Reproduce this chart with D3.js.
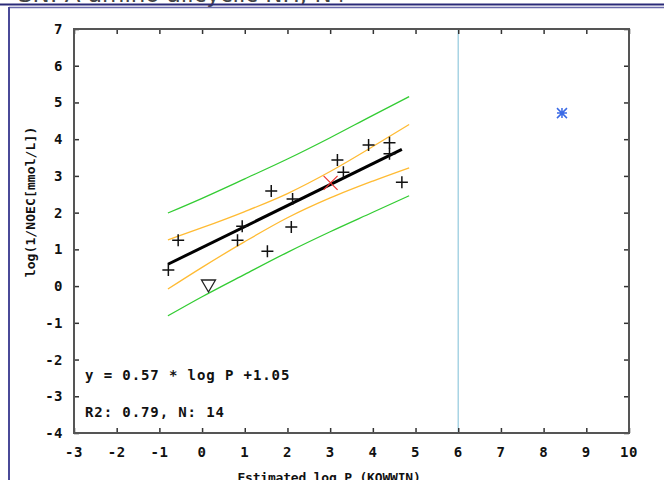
<!DOCTYPE html>
<html><head><meta charset="utf-8">
<script src="https://cdn.jsdelivr.net/npm/d3@7"></script>
<style>
html,body{margin:0;padding:0;background:#fff;}
svg{display:block;}
.mono{font-family:"DejaVu Sans Mono",monospace;font-weight:bold;}
</style></head>
<body><svg id="c" width="664" height="480"></svg>
<script>
// ---- data ----
const obsX = [-0.79,-0.56,0.83,0.94,1.62,1.53,2.09,2.12,3.17,3.31,3.90,4.39,4.39,4.68];
const obsY = [0.44,1.25,1.25,1.63,2.59,0.95,1.61,2.37,3.43,3.10,3.84,3.90,3.60,2.83];
const triX = [0.15], triY = [0.03];
const redX = [3.01], redY = [2.81];
const starX = [8.43], starY = [4.71];
const fitX = [-0.8, 4.68], fitY = [0.594, 3.72];
const bandX = [-0.8, 0, 1, 2, 3, 4, 4.85];
const confUpper = [1.26,1.59,2.03,2.52,3.12,3.80,4.40];
const confLower = [-0.08,0.51,1.21,1.86,2.40,2.86,3.22];
const predUpper = [1.99,2.39,2.92,3.46,4.04,4.65,5.16];
const predLower = [-0.81,-0.29,0.32,0.92,1.48,2.01,2.46];
const refX = 6;
const xTicks = [-3,-2,-1,0,1,2,3,4,5,6,7,8,9,10];
const yTicks = [-4,-3,-2,-1,0,1,2,3,4,5,6,7];
const title = "SN: A amino alicyclic NH, N+";
const eqText = "y = 0.57 * log P +1.05";
const statText = "R2: 0.79, N: 14";
const xLabel = "Estimated log P (KOWWIN)";
const yLabel = "log(1/NOEC[mmol/L])";

// ---- layout ----
const svg = d3.select("#c");
const L=74, R=629, T=29, B=433;
const x = d3.scaleLinear().domain([-3,10]).range([L,R]);
const y = d3.scaleLinear().domain([-4,7]).range([B,T]);

// page decoration
svg.append("text").attr("x",18).attr("y",2).attr("font-family","DejaVu Sans, sans-serif")
  .attr("font-size",23).attr("fill","#444").text(title);
svg.append("line").attr("x1",0).attr("x2",664).attr("y1",4.5).attr("y2",4.5).attr("stroke","#2a2a78").attr("stroke-width",2);
svg.append("line").attr("x1",9).attr("x2",664).attr("y1",7.5).attr("y2",7.5).attr("stroke","#6a6aaa").attr("stroke-width",1.5);
svg.append("line").attr("x1",9).attr("x2",9).attr("y1",7).attr("y2",480).attr("stroke","#4a4a98").attr("stroke-width",2);

// reference line
svg.append("line").attr("x1",x(refX)).attr("x2",x(refX)).attr("y1",T).attr("y2",B)
  .attr("stroke","#a8d4e4").attr("stroke-width",1.5);

// axes (ticks inward on all sides)
const tk = 5;
const gx = svg.append("g").attr("transform",`translate(0,${B})`)
  .call(d3.axisBottom(x).tickValues(xTicks).tickSize(-tk).tickFormat(""));
const gxt = svg.append("g").attr("transform",`translate(0,${T})`)
  .call(d3.axisTop(x).tickValues(xTicks).tickSize(-tk).tickFormat(""));
const gy = svg.append("g").attr("transform",`translate(${L},0)`)
  .call(d3.axisLeft(y).tickValues(yTicks).tickSize(-tk).tickFormat(""));
const gyr = svg.append("g").attr("transform",`translate(${R},0)`)
  .call(d3.axisRight(y).tickValues(yTicks).tickSize(-tk).tickFormat(""));
[gx,gxt,gy,gyr].forEach(g=>{
  g.select(".domain").remove();
  g.selectAll(".tick line").attr("stroke","#333").attr("stroke-width",1.5);
});
svg.append("rect").attr("x",L).attr("y",T).attr("width",R-L).attr("height",B-T)
  .attr("fill","none").attr("stroke","#555").attr("stroke-width",2);

// tick labels
svg.selectAll(".xl").data(xTicks).enter().append("text").attr("class","mono")
  .attr("x",d=>x(d)).attr("y",457).attr("text-anchor","middle").attr("font-size",14)
  .attr("letter-spacing",0.5).attr("fill","#111").text(d=>d);
svg.selectAll(".yl").data(yTicks).enter().append("text").attr("class","mono")
  .attr("x",63).attr("y",d=>y(d)+5).attr("text-anchor","end").attr("font-size",14)
  .attr("letter-spacing",0.5).attr("fill","#111").text(d=>d);

// axis titles
svg.append("text").attr("class","mono").attr("x",329).attr("y",482).attr("text-anchor","middle")
  .attr("font-size",13).attr("letter-spacing",-0.2).attr("fill","#111").text(xLabel);
svg.append("text").attr("class","mono").attr("transform","translate(35,202) rotate(-90)")
  .attr("text-anchor","middle").attr("font-size",13).attr("letter-spacing",0.1).attr("fill","#111").text(yLabel);

// bands
const band = arr => d3.line().x((d,i)=>x(bandX[i])).y(d=>y(d)).curve(d3.curveMonotoneX)(arr);
[[predUpper,"#33cc33"],[predLower,"#33cc33"],[confUpper,"#ffbb33"],[confLower,"#ffbb33"]].forEach(([a,c])=>{
  svg.append("path").attr("d",band(a)).attr("fill","none").attr("stroke",c).attr("stroke-width",1.3);
});
// fit line
svg.append("line").attr("x1",x(fitX[0])).attr("y1",y(fitY[0])).attr("x2",x(fitX[1])).attr("y2",y(fitY[1]))
  .attr("stroke","#000").attr("stroke-width",3);

// points
const s = 6;
svg.selectAll(".pt").data(obsX.map((v,i)=>[v,obsY[i]])).enter().append("path")
  .attr("d",d=>{const px=x(d[0]),py=y(d[1]);return `M${px-s},${py}H${px+s}M${px},${py-s}V${py+s}`;})
  .attr("stroke","#111").attr("stroke-width",1.5).attr("fill","none");
svg.selectAll(".tri").data(triX.map((v,i)=>[v,triY[i]])).enter().append("path")
  .attr("d",d=>{const px=x(d[0]),py=y(d[1]);return `M${px-7},${py-5}H${px+7}L${px},${py+7}Z`;})
  .attr("stroke","#222").attr("stroke-width",1.3).attr("fill","none");
svg.selectAll(".rx").data(redX.map((v,i)=>[v,redY[i]])).enter().append("path")
  .attr("d",d=>{const px=x(d[0]),py=y(d[1]);return `M${px-7},${py-7}L${px+7},${py+7}M${px-7},${py+7}L${px+7},${py-7}`;})
  .attr("stroke","#ee3333").attr("stroke-width",1.2).attr("fill","none");
svg.selectAll(".st").data(starX.map((v,i)=>[v,starY[i]])).enter().append("path")
  .attr("d",d=>{const px=x(d[0]),py=y(d[1]),r=5;return `M${px-r},${py}H${px+r}M${px},${py-r}V${py+r}M${px-r},${py-r}L${px+r},${py+r}M${px-r},${py+r}L${px+r},${py-r}`;})
  .attr("stroke","#3a6ae6").attr("stroke-width",1.5).attr("fill","none");

// annotations
svg.append("text").attr("class","mono").attr("x",85).attr("y",380).attr("font-size",14)
  .attr("letter-spacing",0.9).attr("fill","#111").text(eqText);
svg.append("text").attr("class","mono").attr("x",85).attr("y",417).attr("font-size",14)
  .attr("letter-spacing",0.9).attr("fill","#111").text(statText);
</script></body></html>
